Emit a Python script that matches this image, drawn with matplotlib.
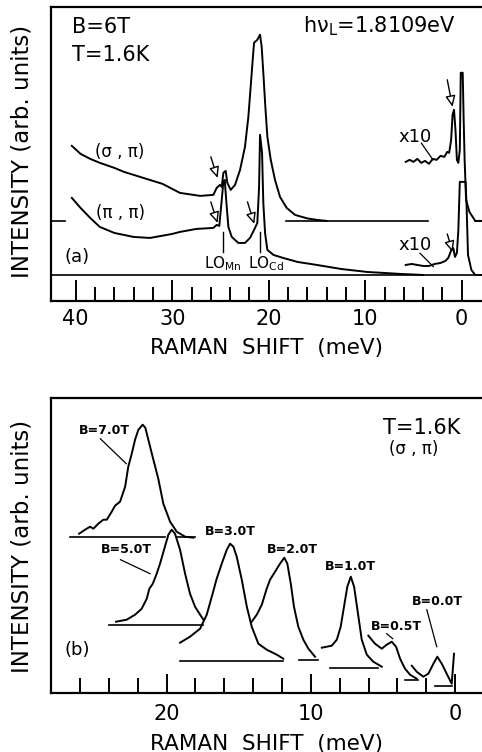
import matplotlib
matplotlib.use("Agg")
import matplotlib.pyplot as plt

# ---- panel (a): B = 6 T spectra ----
sp_x = [40.4, 39.5, 38.5, 37.5, 36, 35, 33, 31, 29.2, 27.1, 25.74, 25.39, 25.05, 24.87,
        24.7, 24.46, 24.29, 23.94, 23.49, 22.97, 22.46, 22.11, 21.87, 21.66, 21.52, 21.18,
        20.9, 20.73, 20.56, 20.35, 20.14, 19.79, 19.35, 18.83, 18.14, 17.27, 16.0, 15.0, 14.0]
sp_y = [154, 146, 141, 137, 132, 128, 122, 116, 107, 104, 105, 112, 115, 113,
        127, 129, 117, 110, 115, 130, 153, 183, 213, 240, 257, 260,
        265, 253, 227, 193, 163, 140, 120, 103, 92, 85, 81.5, 80, 79]
sp10_x = [5.8, 5.4, 5.0, 4.6, 4.2, 3.8, 3.4, 3.0, 2.6, 2.2, 1.8, 1.5, 1.3, 1.1, 0.95, 0.8,
          0.65, 0.5, 0.35, 0.2, 0.1, 0.05, -0.1, -0.2, -0.3, -0.45, -0.8, -1.4, -2.2]
sp10_y = [138, 140, 138, 141, 137, 139, 136, 141, 140, 144, 143, 148, 147, 160, 185, 190,
          170, 140, 137, 150, 227, 227, 227, 180, 140, 100, 88, 79, 79]
pp_x = [40.4, 39.5, 38.5, 37.5, 36, 34, 32.3, 30, 29.2, 27.5, 25.74, 25.39, 25.12, 24.87,
        24.7, 24.56, 24.35, 24.18, 23.83, 23.15, 22.46, 21.94, 21.52, 21.18, 21.0, 20.9,
        20.69, 20.56, 20.38, 20.14, 19.5, 18.5, 17, 15, 12.5, 9.8, 8, 6.3, 5, 4]
pp_y = [102, 92, 82, 73, 67, 63, 62, 66, 68, 71, 72, 75, 74, 100,
        118, 120, 93, 73, 63, 57, 57, 62, 70, 77, 113, 165,
        147, 97, 67, 50, 45, 42, 38, 35, 31, 28, 27, 26, 25.5, 25]
pp10_x = [5.8, 5.2, 4.6, 4.0, 3.4, 2.8, 2.2, 1.7, 1.4, 1.15, 1.0, 0.85, 0.7, 0.5, 0.35,
          0.2, 0.1, -0.4, -0.5, -0.65, -1.0, -1.4, -2.2]
pp10_y = [35, 36, 35, 34, 34, 36, 37, 39, 42, 48, 53, 51, 43, 47, 70,
          118, 118, 118, 95, 45, 30, 25, 25]

# ---- panel (b): (sigma, pi) spectra at several fields ----
b_fields = ["B=7.0T", "B=5.0T", "B=3.0T", "B=2.0T", "B=1.0T", "B=0.5T", "B=0.0T"]
b_x = [
    [26.07, 25.66, 25.31, 25.08, 24.74, 24.39, 24.15, 23.81, 23.58, 23.23, 22.88, 22.66, 22.42,
     22.19, 21.96, 21.66, 21.48, 21.27, 20.92, 20.58, 20.23, 19.76, 19.30, 18.72, 18.15],
    [23.51, 22.77, 22.19, 21.73, 21.38, 21.2, 20.96, 20.69, 20.46, 20.18, 19.88, 19.65,
     19.42, 19.07, 18.72, 18.38, 18.03, 17.68, 17.45],
    [19.07, 18.38, 17.68, 17.22, 16.87, 16.53, 16.18, 15.83, 15.6, 15.37, 15.14, 14.79,
     14.44, 14.1, 13.64, 13.06, 12.36, 11.91],
    [14.1, 13.75, 13.4, 13.06, 12.83, 12.48, 12.14, 11.84, 11.63, 11.39, 11.17, 10.87,
     10.52, 10.17, 9.71],
    [9.24, 8.55, 8.2, 7.93, 7.7, 7.47, 7.23, 7.0, 6.77, 6.47, 6.12, 5.67, 5.08],
    [6.01, 5.55, 5.08, 4.74, 4.39, 4.09, 3.81, 3.47, 3.12, 2.66],
    [3.0, 2.66, 2.2, 1.85, 1.5, 1.23, 0.92, 0.58, 0.23, 0.07],
]
b_y = [
    [159, 163, 166, 164, 169, 173, 173, 181, 187, 191, 206, 226, 239,
     253, 263, 268, 265, 253, 233, 214, 189, 171, 161, 156, 155],
    [71, 73, 78, 84, 94, 104, 109, 119, 129, 143, 158, 163,
     159, 143, 119, 99, 86, 78, 73],
    [50, 56, 64, 78, 96, 114, 129, 143, 149, 146, 136, 113,
     86, 66, 49, 43, 38, 34],
    [71, 78, 88, 104, 113, 121, 129, 135, 129, 109, 86, 66,
     53, 44, 36],
    [45, 47, 53, 66, 86, 106, 116, 106, 83, 53, 38, 31, 26],
    [57, 49, 44, 48, 51, 46, 34, 24, 18, 14],
    [27, 21, 16, 19, 29, 36, 29, 19, 9, 39],
]
b_base = [155.4, 67.7, 32, 32.7, 24.4, 12.7, 6.7]
b_base_x = [(26.7, 20.1), (23.97, 17.45), (19.1, 11.9), (10.8, 9.5), (8.67, 5.32), (3.47, 2.55), (1.39, 0.23)]
b_label_xy = [(24.3, 262), (22.8, 143), (15.6, 161), (11.3, 143), (7.28, 126), (4.04, 66), (1.2, 91)]

lw = 1.4
fig = plt.figure(figsize=(4.82, 7.52), dpi=100)
axa = fig.add_axes([51 / 482, 1 - 301 / 752, 1 - 51 / 482, 294.3 / 752])
axb = fig.add_axes([51 / 482, 1 - 692.7 / 752, 1 - 51 / 482, 294.4 / 752])

for ax in (axa, axb):
    for s in ax.spines.values():
        s.set_linewidth(1.6)
    ax.spines["right"].set_visible(False)
    ax.set_yticks([])
    ax.tick_params(axis="x", which="both", direction="in", top=False, width=1.4, labelsize=15)

# panel a
axa.set_xlim(42.56, -2.1)
axa.set_ylim(-1, 293)
axa.set_xticks([40, 30, 20, 10, 0])
axa.set_xticks(range(40, -1, -2), minor=True)
axa.tick_params(axis="x", which="major", length=15, pad=6)
axa.tick_params(axis="x", which="minor", length=10)
axa.plot(sp_x, sp_y, color="black", lw=lw)
axa.plot(sp10_x, sp10_y, color="black", lw=lw)
axa.plot(pp_x, pp_y, color="black", lw=lw)
axa.plot(pp10_x, pp10_y, color="black", lw=lw)
axa.axhline(25, color="black", lw=1.2)
axa.plot([42.5, 41.1], [79, 79], color="black", lw=1.2)
axa.plot([18.25, 3.5], [79, 79], color="black", lw=1.2)
axa.plot([-1.4, -2.2], [79, 79], color="black", lw=1.2)
for xv in (24.7, 20.9):
    axa.plot([xv, xv], [48, 68], color="black", lw=1.0)

arrows = [((26.0, 143), (25.3, 122)), ((26.0, 98), (25.3, 77)), ((22.2, 98), (21.5, 76)),
          ((1.5, 220), (0.95, 193)), ((1.5, 66), (0.95, 48))]
for start, end in arrows:
    axa.annotate("", xy=end, xytext=start,
                 arrowprops=dict(arrowstyle="-|>,head_length=0.55,head_width=0.25", fc="white",
                                 ec="black", lw=1.0, mutation_scale=12, shrinkA=0, shrinkB=0))
axa.plot([4.18, 2.98], [156.7, 140], color="black", lw=0.9)
axa.plot([4.32, 2.94], [46.7, 33.3], color="black", lw=0.9)

axa.text(40.4, 267, "B=6T", fontsize=15, ha="left", va="baseline")
axa.text(40.4, 239, "T=1.6K", fontsize=15, ha="left", va="baseline")
axa.text(16.4, 267, r"hν$_{\rm L}$=1.8109eV", fontsize=15, ha="left", va="baseline")
axa.text(35.4, 148, "(σ , π)", fontsize=12, ha="center", va="center")
axa.text(35.4, 87, "(π , π)", fontsize=12, ha="center", va="center")
axa.text(39.9, 43, "(a)", fontsize=13, ha="center", va="center")
axa.text(24.7, 32, r"LO$_{\rm Mn}$", fontsize=11, ha="center", va="baseline")
axa.text(20.3, 32, r"LO$_{\rm Cd}$", fontsize=11, ha="center", va="baseline")
axa.text(4.8, 158, "x10", fontsize=13, ha="center", va="baseline")
axa.text(4.8, 50, "x10", fontsize=13, ha="center", va="baseline")
axa.set_xlabel("RAMAN  SHIFT  (meV)", fontsize=15.5, labelpad=6)

# panel b
axb.set_xlim(28.02, -1.87)
axb.set_ylim(0, 294.4)
axb.set_xticks([20, 10, 0])
axb.set_xticks(range(26, -1, -2), minor=True)
axb.tick_params(axis="x", which="major", length=14, pad=8)
axb.tick_params(axis="x", which="minor", length=11)
for i, name in enumerate(b_fields):
    axb.plot(b_x[i], b_y[i], color="black", lw=lw)
    axb.plot(b_base_x[i], [b_base[i], b_base[i]], color="black", lw=1.2)
    lx, ly = b_label_xy[i]
    axb.text(lx, ly, name, fontsize=9, fontweight="bold", ha="center", va="center")
axb.plot([19.3, 18.0], [155.4, 155.4], color="black", lw=1.2)
leaders = [((24.6, 254), (22.8, 229)), ((23.2, 133), (21.15, 119)),
           ((4.74, 59), (4.32, 54)), ((1.96, 83), (1.27, 46))]
for (x0, y0), (x1, y1) in leaders:
    axb.plot([x0, x1], [y0, y1], color="black", lw=0.9)
axb.text(2.33, 259, "T=1.6K", fontsize=15, ha="center", va="baseline")
axb.text(2.9, 244, "(σ , π)", fontsize=12, ha="center", va="center")
axb.text(26.2, 43, "(b)", fontsize=13, ha="center", va="center")
axb.set_xlabel("RAMAN  SHIFT  (meV)", fontsize=15.5, labelpad=7)

fig.text(22 / 482, 1 - 151 / 752, "INTENSITY (arb. units)", rotation=90, fontsize=16.5,
         ha="center", va="center")
fig.text(22 / 482, 1 - 546 / 752, "INTENSITY (arb. units)", rotation=90, fontsize=16.5,
         ha="center", va="center")

fig.savefig("out.png", dpi=100)
